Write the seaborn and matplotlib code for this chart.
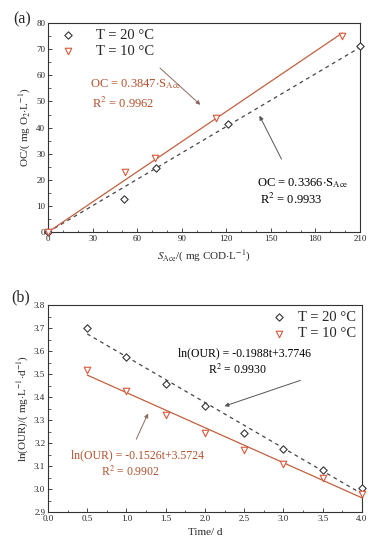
import numpy as np
import pandas as pd
import seaborn as sns
import matplotlib
matplotlib.use("Agg")
import matplotlib.pyplot as plt
from matplotlib.ticker import MultipleLocator

# panel (a) data
s_ace_20 = [0, 51, 73, 121, 210]
oc_20 = [0, 12.8, 24.7, 41.2, 71.4]
s_ace_10 = [0, 52, 72, 113, 198]
oc_10 = [0, 22.9, 28.3, 43.5, 75.1]
slope_20 = 0.3366
slope_10 = 0.3847

# panel (b) data
time_d = [0.5, 1.0, 1.5, 2.0, 2.5, 3.0, 3.5, 4.0]
lnour_20 = [3.700, 3.576, 3.456, 3.363, 3.243, 3.176, 3.081, 3.003]
lnour_10 = [3.520, 3.428, 3.324, 3.246, 3.169, 3.107, 3.047, 2.979]
fit_20 = (-0.1988, 3.7746)
fit_10 = (-0.1526, 3.5724)

RED = "#c0603f"
RED_TXT = "#b2502c"
MK_RED = "#d9583a"

sns.set_style("ticks")
plt.rcParams['font.family'] = ['Liberation Serif', 'DejaVu Serif']
plt.rcParams['mathtext.fontset'] = 'stix'
plt.rcParams['xtick.direction'] = 'in'
plt.rcParams['ytick.direction'] = 'in'

fig = plt.figure(figsize=(3.75, 5.5), dpi=100)
ax1 = fig.add_axes([0.128, 0.578, 0.832, 0.380])
ax2 = fig.add_axes([0.128, 0.069, 0.837, 0.376])

# ---- (a)
da20 = pd.DataFrame({"x": s_ace_20, "y": oc_20})
da10 = pd.DataFrame({"x": s_ace_10, "y": oc_10})
xf20 = np.array([0, max(s_ace_20)])
xf10 = np.array([0, max(s_ace_10)])
sns.lineplot(x=xf20, y=slope_20 * xf20, ax=ax1, color="#444444", lw=0.9,
             linestyle=(0, (3, 3)))
sns.lineplot(x=xf10, y=slope_10 * xf10, ax=ax1, color=RED, lw=0.9)
sns.scatterplot(data=da20, x="x", y="y", ax=ax1, marker="D", s=14,
                facecolor="white", edgecolor="#333333", linewidth=0.8,
                label="T = 20 \u00b0C", zorder=5, clip_on=False)
sns.scatterplot(data=da10, x="x", y="y", ax=ax1, marker="v", s=22,
                facecolor="white", edgecolor=MK_RED, linewidth=0.8,
                label="T = 10 \u00b0C", zorder=5, clip_on=False)
ax1.set_xlim(0, 210)
ax1.set_ylim(0, 80)
ax1.xaxis.set_major_locator(MultipleLocator(30))
ax1.xaxis.set_minor_locator(MultipleLocator(10))
ax1.yaxis.set_major_locator(MultipleLocator(10))
ax1.yaxis.set_minor_locator(MultipleLocator(5))
ax1.set_xlabel(r"$S_{\rm Ace}$/( mg COD$\cdot$L$^{-1}$)", fontsize=8)
ax1.set_ylabel(r"OC/( mg O$_2$$\cdot$L$^{-1}$)", fontsize=8, labelpad=2)
ax1.legend(loc="upper left", frameon=False, fontsize=10.5, handletextpad=0.9,
           borderaxespad=0.1, labelspacing=0.2, borderpad=0.3)
ax1.text(28, 55.5, r"OC = 0.3847$\cdot$S$_{\rm Ace}$", color=RED_TXT, fontsize=9)
ax1.text(29.5, 47.5, r"R$^2$ = 0.9962", color=RED_TXT, fontsize=9)
ax1.text(141, 17.5, r"OC = 0.3366$\cdot$S$_{\rm Ace}$", color="black", fontsize=9)
ax1.text(143, 10.8, r"R$^2$ = 0.9933", color="black", fontsize=9)
ax1.annotate("", xy=(104, 48), xytext=(74, 63.5),
             arrowprops=dict(arrowstyle="-|>", color="#8a6a60", lw=0.7,
                             mutation_scale=6))
ax1.annotate("", xy=(141.5, 45.5), xytext=(158, 27),
             arrowprops=dict(arrowstyle="-|>", color="#555555", lw=0.7,
                             mutation_scale=6))
fig.text(0.035, 0.965, "(a)", fontsize=11.5, ha="left", va="center")

# ---- (b)
db20 = pd.DataFrame({"t": time_d, "y": lnour_20})
db10 = pd.DataFrame({"t": time_d, "y": lnour_10})
tf = np.array([min(time_d), max(time_d)])
sns.lineplot(x=tf, y=fit_20[0] * tf + fit_20[1], ax=ax2, color="#444444",
             lw=0.9, linestyle=(0, (3, 3)))
sns.lineplot(x=tf, y=fit_10[0] * tf + fit_10[1], ax=ax2, color=RED, lw=0.9)
sns.scatterplot(data=db20, x="t", y="y", ax=ax2, marker="D", s=14,
                facecolor="white", edgecolor="#333333", linewidth=0.8,
                label="T = 20 \u00b0C", zorder=5, clip_on=False)
sns.scatterplot(data=db10, x="t", y="y", ax=ax2, marker="v", s=22,
                facecolor="white", edgecolor=MK_RED, linewidth=0.8,
                label="T = 10 \u00b0C", zorder=5, clip_on=False)
ax2.set_xlim(0, 4.0)
ax2.set_ylim(2.9, 3.8)
ax2.xaxis.set_major_locator(MultipleLocator(0.5))
ax2.xaxis.set_minor_locator(MultipleLocator(0.25))
ax2.yaxis.set_major_locator(MultipleLocator(0.1))
ax2.yaxis.set_minor_locator(MultipleLocator(0.05))
ax2.xaxis.set_major_formatter(matplotlib.ticker.FormatStrFormatter("%.1f"))
ax2.yaxis.set_major_formatter(matplotlib.ticker.FormatStrFormatter("%.1f"))
ax2.set_xlabel("Time/ d", fontsize=8)
ax2.set_ylabel(r"ln(OUR)/( mg$\cdot$L$^{-1}$$\cdot$d$^{-1}$)", fontsize=8,
               labelpad=2)
ax2.legend(loc="upper right", frameon=False, fontsize=10.5, handletextpad=0.3,
           borderaxespad=0.1, labelspacing=0.2, borderpad=0.3)
ax2.text(2.5, 3.592, "ln(OUR) = -0.1988t+3.7746", color="black", fontsize=8.5,
         ha="center", va="center")
ax2.text(2.42, 3.517, r"R$^2$ = 0.9930", color="black", fontsize=8.5,
         ha="center", va="center")
ax2.text(1.14, 3.147, "ln(OUR) = -0.1526t+3.5724", color=RED_TXT, fontsize=8.5,
         ha="center", va="center")
ax2.text(1.05, 3.074, r"R$^2$ = 0.9902", color=RED_TXT, fontsize=8.5,
         ha="center", va="center")
ax2.annotate("", xy=(2.215, 3.357), xytext=(3.25, 3.477),
             arrowprops=dict(arrowstyle="-|>", color="#555555", lw=0.7,
                             mutation_scale=6))
ax2.annotate("", xy=(1.29, 3.34), xytext=(1.11, 3.206),
             arrowprops=dict(arrowstyle="-|>", color="#8a6a60", lw=0.7,
                             mutation_scale=6))
fig.text(0.03, 0.46, "(b)", fontsize=11.5, ha="left", va="center")

for ax in (ax1, ax2):
    for sp in ax.spines.values():
        sp.set_visible(True)
        sp.set_linewidth(0.8)
        sp.set_color("#333333")
    ax.tick_params(which="major", length=3, width=0.6, labelsize=6.5, pad=2,
                   top=False, right=False)
    ax.tick_params(which="minor", length=1.8, width=0.5, top=False, right=False)

fig.savefig("out.png", dpi=100)
